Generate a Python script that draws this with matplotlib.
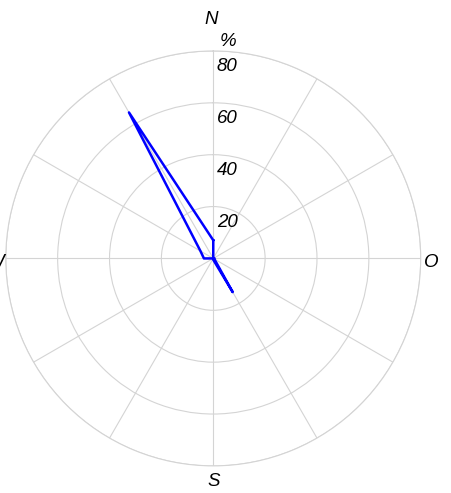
import numpy as np
import matplotlib
matplotlib.use("Agg")
import matplotlib.pyplot as plt

# wind directions (deg, clockwise from north) and frequency (%)
directions = [0, 30, 60, 90, 120, 150, 180, 210, 240, 270, 300, 330]
freq = [7, 0, 0, 0.5, 0.5, 15, 0.5, 0, 0, 3.6, 5.7, 65]
rings = [20, 40, 60, 80]
compass = {"N": 0, "O": 90, "S": 180, "W": 270}

plt.rcParams['font.family'] = ['Liberation Sans', 'DejaVu Sans']
fs = 13.5
grid_col = '#d4d4d4'

fig = plt.figure(figsize=(4.52, 4.93), dpi=100)
ax = fig.add_axes([0.0128, 0.0548, 0.918, 0.842], projection='polar')
ax.set_theta_zero_location('N')
ax.set_theta_direction(-1)

theta = np.radians(directions + [directions[0]])
r = freq + [freq[0]]
ax.plot(theta, r, color='#0000ff', lw=1.8)

ax.set_ylim(0, 80)
ax.set_yticks(rings)
ax.set_yticklabels([])
ax.set_xticks(np.radians(np.arange(0, 360, 30)))
ax.set_xticklabels([])
ax.grid(True, color=grid_col, lw=0.8)
ax.spines['polar'].set_color(grid_col)
ax.spines['polar'].set_linewidth(0.8)

# ring labels just inside each circle, right of north spoke
for v in rings:
    ax.text(0.509, 0.5 + 0.5 * (v - 6) / 80, str(v), transform=ax.transAxes,
            ha='left', va='center', fontsize=fs, style='italic')
ax.text(0.516, 1.022, '%', transform=ax.transAxes, ha='left', va='center',
        fontsize=fs, style='italic')

# compass letters
pos = {"N": (0.496, 1.075), "O": (1.0246, 0.489), "S": (0.5, -0.0386), "W": (-0.026, 0.489)}
for lab in compass:
    x, y = pos[lab]
    ax.text(x, y, lab, transform=ax.transAxes, ha='center', va='center',
            fontsize=fs, style='italic', clip_on=False)

fig.savefig('out.png', dpi=100)
